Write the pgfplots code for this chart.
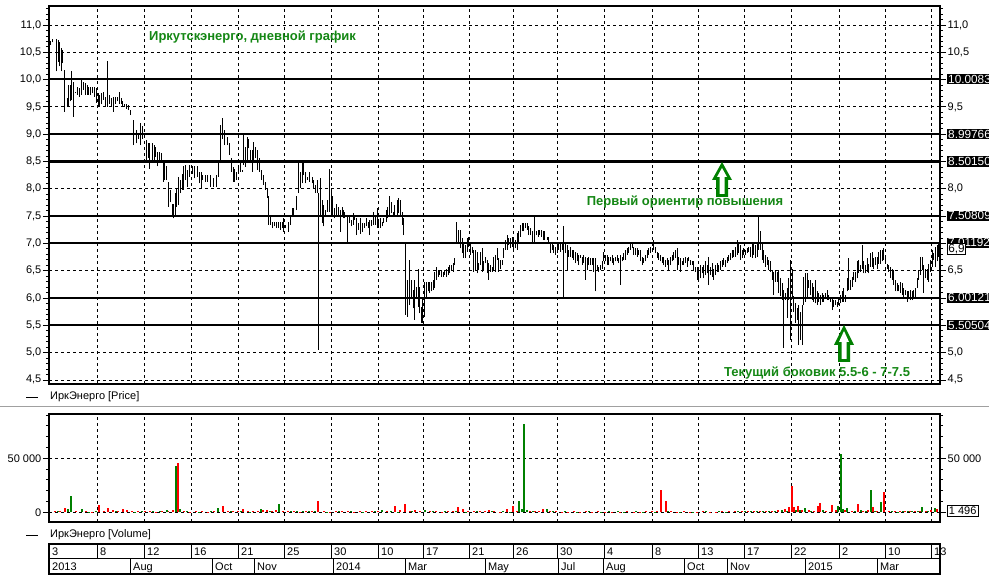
\documentclass[border=0pt]{standalone}
\usepackage{fontspec}
\setmainfont{Liberation Sans}
\usepackage{pgfplots}
\pgfplotsset{compat=1.18}
\usepackage{pgfplotstable}

\definecolor{upgreen}{RGB}{0,128,0}
\definecolor{txtgreen}{RGB}{20,135,20}
\definecolor{sepgray}{RGB}{160,160,160}
\newcommand{\tf}{\fontsize{11bp}{13bp}\selectfont}
\newcommand{\boxf}{\fontsize{11.8bp}{13bp}\selectfont}
\newcommand{\gf}{\bfseries\fontsize{13bp}{15bp}\selectfont}

% daily high / low, x = position on the time scale
\pgfplotstableread{
x hi lo
50 10.70 10.64
52 10.75 10.68
56 10.74 10.15
58 10.73 10.33
59 10.69 10.24
61 10.57 10.15
62 10.54 10.30
64 10.18 9.41
67 9.66 9.50
68 9.90 9.50
70 9.90 9.60
71 10.15 9.63
73 9.96 9.32
75 9.78 9.75
77 9.87 9.72
79 9.84 9.69
81 9.99 9.72
83 9.96 9.81
85 9.93 9.72
87 9.90 9.72
88 9.87 9.72
90 9.86 9.72
92 9.87 9.75
94 9.86 9.69
96 9.84 9.58
98 9.75 9.50
99 9.72 9.50
101 9.75 9.55
103 9.78 9.63
105 9.69 9.50
107 10.34 9.50
109 9.72 9.55
111 9.66 9.50
113 9.69 9.41
115 9.69 9.55
117 9.69 9.60
119 9.78 9.55
121 9.66 9.55
122 9.60 9.50
124 9.55 9.50
126 9.55 9.47
128 9.53 9.44
130 9.44 9.35
133 9.26 8.80
136 9.08 8.83
138 9.02 8.92
140 9.20 8.80
142 9.15 8.92
146 8.89 8.53
148 8.83 8.56
149 8.83 8.37
152 8.83 8.53
154 8.80 8.53
155 8.77 8.59
157 8.68 8.41
159 8.68 8.53
161 8.65 8.50
163 8.50 8.13
164 8.47 8.16
166 8.41 8.16
168 8.13 7.67
170 7.98 7.75
172 7.73 7.52
173 7.73 7.46
175 7.92 7.52
176 8.01 7.67
178 8.22 7.70
180 8.16 7.92
182 8.28 7.98
183 8.41 7.98
185 8.44 8.16
187 8.34 8.04
189 8.44 8.22
192 8.41 8.28
194 8.41 8.19
197 8.41 8.22
199 8.31 8.10
201 8.31 8.01
202 8.25 8.16
205 8.25 8.13
207 8.25 8.13
210 8.25 8.04
213 8.19 8.04
216 8.25 8.04
218 8.47 8.22
220 9.17 8.47
222 9.29 8.92
224 9.08 8.80
227 8.95 8.80
229 8.83 8.62
231 8.56 8.31
233 8.40 8.13
234 8.37 8.13
236 8.31 8.16
238 8.40 8.28
240 8.50 8.31
242 8.34 8.31
243 9.02 8.44
245 8.77 8.40
247 8.95 8.53
248 8.92 8.74
250 8.71 8.50
252 8.71 8.31
253 8.86 8.47
255 8.77 8.56
257 8.71 8.34
259 8.56 8.31
261 8.34 8.16
263 8.25 8.07
265 8.13 7.98
267 8.01 7.83
268 7.86 7.34
270 7.52 7.34
272 7.40 7.28
274 7.40 7.31
276 7.40 7.28
278 7.40 7.28
280 7.40 7.25
282 7.40 7.28
283 7.46 7.21
285 7.34 7.28
288 7.40 7.21
290 7.52 7.34
292 7.64 7.52
293 7.64 7.52
296 7.86 7.61
298 8.47 7.92
300 8.31 8.01
302 8.50 8.10
303 8.50 8.25
305 8.31 8.10
307 8.22 8.16
309 8.31 8.13
312 8.22 8.10
313 8.16 8.01
315 8.07 7.92
317 8.16 7.92
318 7.92 5.05
320 8.19 7.49
322 7.80 7.37
323 7.70 7.31
325 7.61 7.52
327 7.80 7.58
329 8.37 7.58
331 8.01 7.49
332 7.86 7.52
334 7.64 7.46
336 7.73 7.49
338 7.67 7.52
340 7.61 7.21
342 7.67 7.49
343 7.61 7.46
344 7.58 7.46
347 7.49 7.03
349 7.49 7.37
351 7.43 7.31
353 7.55 7.34
354 7.52 7.43
356 7.46 7.15
358 7.37 7.25
360 7.46 7.18
362 7.37 7.21
364 7.37 7.28
366 7.46 7.31
368 7.40 7.28
369 7.43 7.15
371 7.43 7.31
373 7.58 7.34
375 7.52 7.34
377 7.64 7.28
378 7.43 7.34
380 7.46 7.28
382 7.40 7.31
383 7.46 7.37
386 7.61 7.40
387 7.67 7.46
389 7.86 7.49
391 7.76 7.55
393 7.58 7.52
394 7.70 7.52
397 7.80 7.49
398 7.83 7.55
400 7.80 7.49
402 7.58 7.34
403 7.46 7.15
405 7.00 5.69
407 6.33 5.66
409 6.70 5.87
411 6.33 5.99
413 6.15 5.81
414 6.33 5.60
416 6.21 6.02
418 6.54 5.84
419 6.21 5.72
421 5.84 5.54
422 5.99 5.54
424 6.30 5.66
426 6.30 5.99
428 6.30 6.12
429 6.30 6.09
431 6.30 6.12
433 6.33 6.15
434 6.48 6.18
436 6.57 6.33
438 6.51 6.39
439 6.51 6.42
441 6.51 6.39
443 6.48 6.39
444 6.51 6.42
446 6.54 6.39
448 6.57 6.42
449 6.60 6.45
451 6.60 6.51
453 6.64 6.48
454 6.73 6.60
456 7.40 7.00
458 7.25 7.00
460 7.25 6.91
462 7.09 6.82
463 7.03 6.73
465 6.97 6.73
467 7.09 6.85
468 7.12 6.94
470 7.00 6.79
472 6.94 6.82
473 6.88 6.48
475 6.88 6.51
477 6.85 6.45
478 6.64 6.51
480 6.85 6.60
482 6.91 6.48
483 6.67 6.51
485 6.76 6.64
487 6.70 6.45
488 6.64 6.33
490 6.60 6.48
492 6.57 6.48
493 6.76 6.51
495 6.79 6.48
497 6.91 6.70
498 6.73 6.48
500 6.70 6.54
502 6.70 6.60
503 6.91 6.73
505 7.06 6.88
507 7.15 6.88
508 7.09 6.97
510 7.09 6.91
512 7.12 6.94
513 7.06 6.88
515 7.06 6.91
517 7.19 6.88
518 7.22 7.03
520 7.34 7.12
522 7.37 7.22
523 7.37 7.22
525 7.37 7.28
527 7.37 7.25
528 7.31 7.15
530 7.28 7.15
532 7.22 7.03
534 7.49 7.03
536 7.22 7.15
538 7.25 7.12
539 7.25 7.15
541 7.25 7.12
543 7.22 7.06
544 7.22 7.06
547 7.12 7.06
548 7.12 7.00
550 7.03 6.82
552 7.00 6.88
553 6.97 6.82
555 6.94 6.79
557 7.03 6.82
558 7.00 6.88
560 7.00 6.85
562 7.00 6.88
563 7.31 6.00
565 7.03 6.82
567 6.97 6.51
568 6.88 6.76
570 6.94 6.76
572 6.88 6.73
573 6.88 6.70
575 6.85 6.64
577 6.82 6.67
578 6.79 6.60
580 6.79 6.73
582 6.76 6.60
583 6.79 6.64
585 6.76 6.33
587 6.73 6.51
588 6.76 6.60
590 6.73 6.60
592 6.73 6.60
593 6.73 6.48
595 6.73 6.12
597 6.60 6.51
598 6.57 6.48
600 6.60 6.51
602 6.67 6.54
603 6.85 6.67
605 6.79 6.67
607 6.79 6.60
608 6.76 6.60
610 6.76 6.67
612 6.79 6.64
613 6.73 6.60
615 6.76 6.67
617 6.79 6.67
618 6.73 6.64
620 6.79 6.24
622 6.76 6.67
623 6.82 6.70
625 6.88 6.70
627 6.91 6.79
628 6.94 6.82
630 7.00 6.88
632 7.00 6.91
633 6.94 6.79
635 6.91 6.79
637 6.91 6.76
638 6.88 6.79
640 6.88 6.67
642 6.76 6.60
643 6.73 6.64
645 6.79 6.67
647 6.88 6.73
648 6.91 6.79
650 6.94 6.82
652 6.91 6.85
653 7.06 6.88
655 6.94 6.82
657 6.85 6.73
658 6.82 6.70
660 6.79 6.67
662 6.76 6.64
663 6.76 6.60
665 6.70 6.57
667 6.73 6.60
668 6.70 6.51
670 6.76 6.60
672 6.79 6.67
673 6.85 6.70
675 6.88 6.73
677 6.91 6.51
678 6.76 6.60
680 6.73 6.48
682 6.67 6.60
683 6.73 6.60
685 6.76 6.64
687 6.73 6.57
688 6.76 6.67
690 6.70 6.60
692 6.67 6.60
693 6.67 6.51
695 6.57 6.48
697 6.57 6.33
698 6.57 6.30
700 6.60 6.36
702 6.57 6.45
703 6.60 6.36
705 6.67 6.42
707 6.60 6.45
708 6.76 6.24
710 6.57 6.42
712 6.64 6.39
713 6.54 6.33
715 6.60 6.42
717 6.64 6.48
718 6.60 6.48
720 6.67 6.51
722 6.70 6.57
723 6.73 6.60
725 6.70 6.57
727 6.76 6.64
728 6.79 6.67
730 6.82 6.70
732 6.88 6.73
733 6.88 6.76
735 6.94 6.76
737 7.06 6.79
738 7.00 6.82
740 6.97 6.70
742 6.88 6.73
743 6.91 6.79
745 6.88 6.79
747 6.91 6.82
748 6.94 6.85
750 6.94 6.76
752 7.03 6.73
753 7.03 6.79
755 6.97 6.73
757 7.00 6.76
758 7.49 6.88
760 7.22 6.88
762 7.00 6.70
763 6.88 6.64
765 6.79 6.57
767 6.76 6.60
768 6.70 6.51
770 6.67 6.48
772 6.51 6.33
773 6.48 6.06
775 6.51 6.30
777 6.48 6.30
778 6.51 6.09
780 6.36 6.03
782 6.27 5.96
783 6.15 5.08
785 6.09 5.96
787 6.18 5.63
788 6.36 5.96
790 6.70 5.23
792 6.54 6.00
793 6.03 5.75
795 5.90 5.54
797 5.81 5.60
798 5.87 5.14
800 5.75 5.23
802 5.87 5.14
803 6.39 5.87
805 6.45 5.93
807 6.45 6.02
808 6.33 6.18
810 6.33 6.05
812 6.27 5.96
813 6.21 5.93
815 6.33 5.90
817 6.12 5.87
818 6.09 5.93
820 6.05 5.87
822 6.09 5.93
823 6.05 5.93
825 6.09 5.99
827 6.15 5.96
828 6.05 5.96
830 6.02 5.93
832 5.99 5.78
833 5.96 5.84
835 5.96 5.87
837 5.93 5.84
838 5.99 5.87
840 6.05 5.90
842 6.12 5.93
843 6.18 5.93
845 6.05 5.93
847 6.36 6.12
848 6.73 6.15
850 6.33 6.15
852 6.39 6.21
853 6.48 6.33
855 6.48 6.30
857 6.67 6.36
858 6.70 6.45
860 6.60 6.48
862 6.97 6.54
863 6.67 6.45
865 6.60 6.45
867 6.73 6.48
868 6.63 6.45
870 6.82 6.57
872 6.85 6.57
873 6.73 6.54
875 6.76 6.60
877 6.76 6.54
878 6.85 6.63
880 6.88 6.63
882 6.88 6.67
883 6.91 6.70
885 6.76 6.63
887 6.63 6.54
888 6.60 6.48
890 6.57 6.36
892 6.54 6.33
893 6.51 6.24
895 6.33 6.12
897 6.27 6.12
898 6.24 6.12
900 6.30 6.09
902 6.27 6.05
903 6.18 6.02
905 6.15 6.05
907 6.12 5.93
908 6.12 5.99
910 6.15 5.96
912 6.12 5.96
913 6.15 5.99
915 6.18 6.02
917 6.36 6.18
918 6.51 6.33
920 6.76 6.42
922 6.76 6.51
923 6.60 6.09
925 6.54 6.36
927 6.54 6.33
928 6.63 6.30
930 6.70 6.48
932 6.88 6.57
933 6.82 6.70
935 6.94 6.57
937 6.97 6.67
938 7.00 6.76
}\price

% volume on down days / up days
\pgfplotstableread{
x v
55 900
60 1200
65 3700
76 800
86 1000
92 600
99 6800
104 1500
108 3700
113 1800
118 900
123 2800
127 2500
132 1200
138 800
145 900
150 1300
156 700
162 1100
168 900
173 2500
178 45700
184 1000
190 700
196 800
202 900
208 600
214 800
223 5900
228 1500
233 1200
238 900
243 2800
248 1200
253 900
258 1500
263 2200
267 1800
272 900
276 2500
283 800
288 1100
294 900
300 700
306 1000
312 900
318 10800
324 800
330 600
336 900
342 800
348 1100
354 700
360 900
366 800
372 1200
378 900
387 1500
395 5900
400 1800
405 7700
410 1200
415 2500
420 1000
430 900
436 800
442 700
448 1300
453 1000
458 4600
463 2800
468 1500
474 900
480 1200
485 1000
489 2500
494 900
500 700
507 2800
513 5900
517 1200
530 900
535 800
539 1500
543 2600
550 900
556 800
562 700
568 600
574 800
580 700
586 900
592 600
598 800
605 700
612 600
620 700
627 800
634 600
640 700
646 900
652 800
657 1200
661 20700
666 10500
671 900
677 700
684 800
690 600
697 700
703 800
710 600
716 700
722 800
729 900
735 1100
742 900
748 1300
754 1000
760 1500
766 1200
772 900
778 1800
785 3000
789 4500
792 24400
794 4600
798 5900
802 2200
809 1800
814 1500
818 5900
820 8300
826 1500
832 6800
836 2500
845 1800
852 1200
858 7700
863 1500
868 2000
873 4600
877 1500
884 18500
889 1200
895 900
900 800
905 1000
910 900
915 1200
920 1500
926 900
931 2200
937 2800
}\voldown

\pgfplotstableread{
x v
58 800
68 2800
71 15100
82 2800
89 700
96 800
116 900
135 700
142 1000
153 800
160 1200
167 1800
176 43000
180 3000
187 900
199 700
211 800
218 4300
231 900
241 1000
250 700
261 2800
270 900
279 7700
291 1200
297 1000
303 900
309 800
315 1100
327 700
339 800
351 900
363 700
375 800
382 2000
391 900
398 700
412 800
425 2500
433 900
445 800
456 1500
466 700
477 900
492 800
503 1000
510 700
519 10500
522 3000
524 81900
527 2000
533 800
547 2600
553 900
565 800
577 700
589 800
601 600
609 1500
618 1200
624 700
636 800
643 600
655 700
668 800
680 600
693 700
706 800
719 900
726 700
738 1500
745 900
751 1200
757 800
763 1000
769 1500
775 900
782 2000
787 1300
796 2500
800 1800
805 3700
811 1500
823 1800
838 5900
841 54400
843 3000
847 3700
855 1500
861 2000
866 1200
871 20700
875 1500
881 9300
892 900
898 700
903 800
908 1100
912 900
918 1500
922 4600
928 1000
935 3700
}\volup

\pgfplotsset{
  panel/.style={
    scale only axis, width=891bp, xmin=49, xmax=940,
    axis line style={line width=1.2bp},
    tick style={black, line width=0.8bp},
    major tick length=6bp, minor tick length=3bp,
    tick align=outside,
    xtick={97,144,191,238,284,331,378,423,469,513,557,604,652,698,744,791,839,885,931},
    xticklabels={}, xtick style={draw=none},
    grid style={black, line width=0.8bp, dash pattern=on 3bp off 3bp},
    ticklabel style={font=\tf, inner sep=1.5bp},
    /pgf/number format/assume math mode=true,
  },
  pricey/.style={
    height=378bp, ymin=4.425, ymax=11.348,
    minor ytick={4.5,4.6,...,11.35},
    yticklabel style={/pgf/number format/.cd, fixed, fixed zerofill, precision=1, use comma},
  },
  voly/.style={
    height=108bp, ymin=-8980, ymax=91000,
    scaled y ticks=false,
    minor ytick={10000,20000,30000,40000,60000,70000,80000,90000},
    yticklabel style={/pgf/number format/.cd, fixed, precision=0, 1000 sep={\ }},
  },
}

\begin{document}
\begin{tikzpicture}
\path[use as bounding box] (0,0) rectangle (989bp,576bp);
\fill[white] (0,0) rectangle (989bp,576bp);

% price panel
\begin{axis}[panel, pricey, at={(49bp,192bp)}, anchor=south west,
  ytick={4.5,5.0,5.5,6.0,6.5,7.0,7.5,8.0,8.5,9.0,9.5,10.0,10.5,11.0},
  xmajorgrids, ymajorgrids, ytick pos=left]
\foreach \lv in {10.0083,8.99766,8.50150,7.50809,7.01192,6.00121,5.50504}{
  \edef\tmp{\noexpand\addplot[black, line width=2.2bp, forget plot] coordinates {(49,\lv) (940,\lv)};}
  \tmp
}
\addplot[draw=none, mark=none, forget plot,
  error bars/.cd, y dir=plus, y explicit, error mark=none,
  error bar style={draw=black, line width=1bp}]
  table[x=x, y=lo, y error expr=\thisrow{hi}-\thisrow{lo}] {\price};
\end{axis}
% right scale: the labels under the level boxes are hidden there
\begin{axis}[panel, pricey, at={(49bp,192bp)}, anchor=south west,
  axis y line*=right, axis x line=none,
  ytick={4.5,5.0,6.5,8.0,9.5,10.5,11.0},
  extra y ticks={5.5,6.0,7.0,7.5,8.5,9.0,10.0}, extra y tick labels={}]
\end{axis}

% volume panel
\begin{axis}[panel, voly, at={(49bp,54bp)}, anchor=south west,
  xmajorgrids, ymajorgrids, ytick={0,50000}, ytick pos=left]
\addplot[ycomb, mark=none, draw=red, line width=1.2bp] table[x=x, y=v] {\voldown};
\addplot[ycomb, mark=none, draw=upgreen, line width=1.2bp] table[x=x, y=v] {\volup};
\end{axis}
\begin{axis}[panel, voly, at={(49bp,54bp)}, anchor=south west,
  axis y line*=right, axis x line=none, ytick={50000},
  extra y ticks={0}, extra y tick labels={}]
\end{axis}

% annotations, in pixel units measured from the top left corner
\begin{scope}[x=1bp, y=-1bp, yshift=576bp]
  \foreach \yy/\t in {79.1/10.0083, 134.3/8.99766, 161.4/8.50150, 215.7/7.50809,
                      242.7/7.01192, 297.9/6.00121, 325.0/5.50504}{
    \node[anchor=west, fill=black, text=white, font=\boxf, inner sep=1bp] at (947,\yy) {\t};
  }
  \node[anchor=west, fill=white, draw=black, line width=0.8bp, font=\boxf, inner sep=1bp] at (947,249) {6,9};
  \node[anchor=west, fill=white, draw=black, line width=0.8bp, font=\tf, inner sep=1.5bp] at (947,511) {1\ 496};

  \node[anchor=west, font=\gf, text=txtgreen, inner sep=0pt] at (149,37) {Иркутскэнерго, дневной график};
  \node[font=\gf, text=txtgreen, inner sep=0pt] at (685,202) {Первый ориентир повышения};
  \node[font=\gf, text=txtgreen, inner sep=0pt] at (817,373) {Текущий боковик 5.5-6 - 7-7.5};

  \fill[upgreen] (722,162) -- (732,180) -- (728,180) -- (728,197) -- (716,197) -- (716,180) -- (712,180) -- cycle;
  \fill[white] (722,168) -- (727,177) -- (724.5,177) -- (724.5,194) -- (719.5,194) -- (719.5,177) -- (717,177) -- cycle;
  \fill[upgreen] (844,325) -- (854,345) -- (850,345) -- (850,362) -- (838,362) -- (838,345) -- (834,345) -- cycle;
  \fill[white] (844,331) -- (849,342) -- (846.5,342) -- (846.5,359) -- (841.5,359) -- (841.5,342) -- (839,342) -- cycle;

  \draw[line width=0.8bp] (26,397) -- (38,397);
  \node[anchor=west, font=\tf, inner sep=0pt] at (50,397) {ИркЭнерго [Price]};
  \draw[sepgray, line width=1bp] (0,407) -- (989,407);
  \draw[line width=0.8bp] (26,535) -- (38,535);
  \node[anchor=west, font=\tf, inner sep=0pt] at (50,535) {ИркЭнерго [Volume]};

  % date scale
  \draw[line width=1.2bp] (49,544) rectangle (940,574);
  \draw[line width=1bp] (49,559) -- (940,559);
  \foreach \xx/\t in {49/3,97/8,144/12,191/16,238/21,284/25,331/30,378/10,423/17,469/21,
                      513/26,557/30,604/4,652/8,698/13,744/17,791/22,839/2,885/10,931/13}{
    \draw[line width=1bp] (\xx,544) -- (\xx,559);
    \node[anchor=base west, font=\tf, inner sep=0pt] at (\xx+3,556) {\t};
  }
  \foreach \xx/\t in {49/2013,130/Aug,212/Oct,254/Nov,333/2014,405/Mar,485/May,
                      558/Jul,603/Aug,684/Oct,727/Nov,805/2015,877/Mar}{
    \draw[line width=1bp] (\xx,559) -- (\xx,574);
    \node[anchor=base west, font=\tf, inner sep=0pt] at (\xx+3,571) {\t};
  }
\end{scope}
\end{tikzpicture}
\end{document}
